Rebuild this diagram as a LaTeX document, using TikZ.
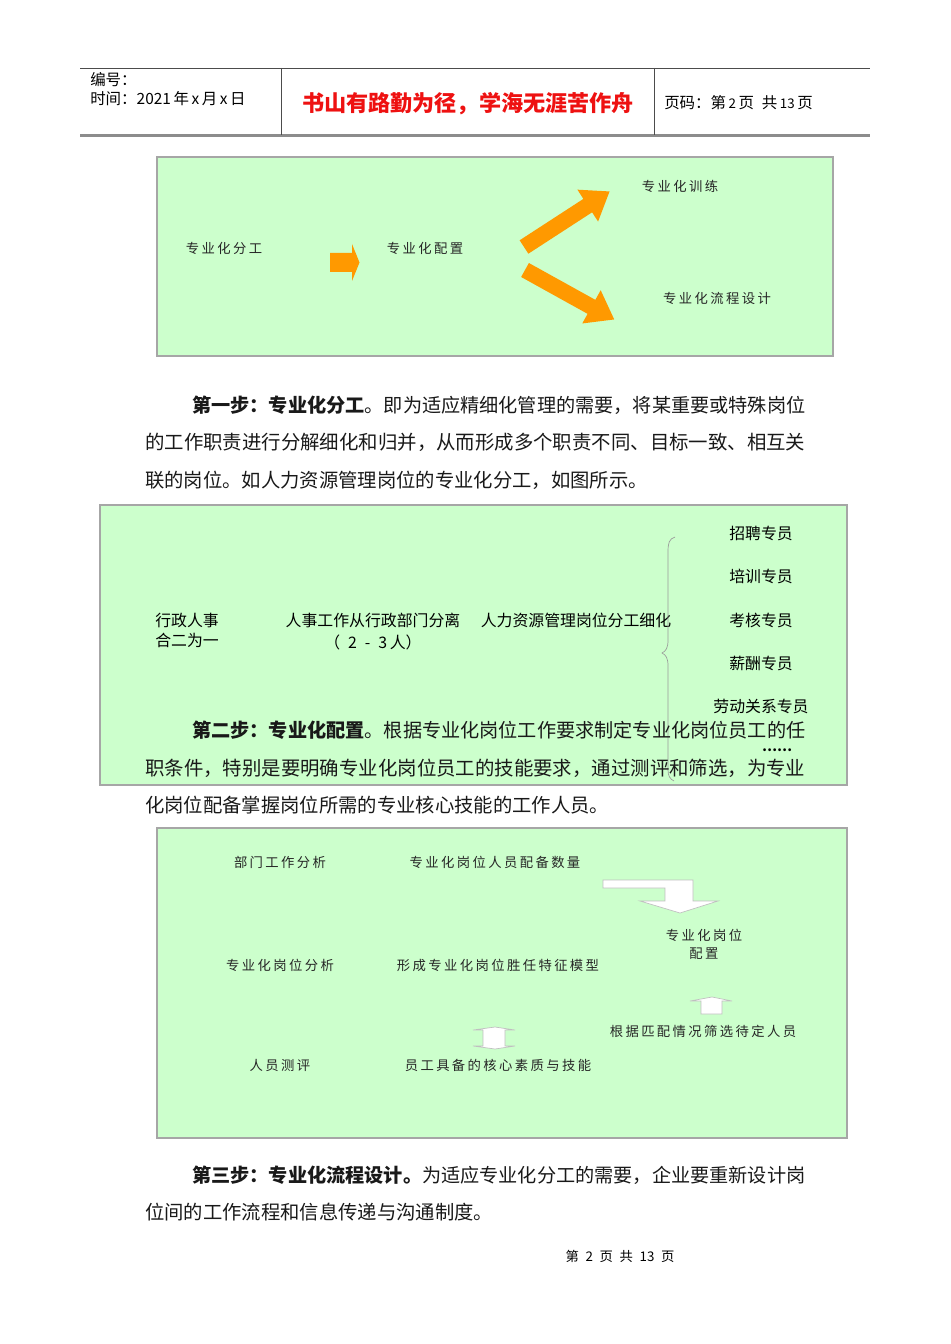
\documentclass[tikz,border=0pt]{standalone}
\usepackage{fontspec}
\setmainfont{Noto Sans CJK SC}
\newfontfamily\spacedcjk{Noto Sans CJK SC}[LetterSpace=18]
\definecolor{boxgreen}{HTML}{CCFFCC}
\definecolor{arroworange}{HTML}{FF9900}
\definecolor{titlered}{HTML}{EE1111}
\tikzset{
  panel/.style={draw=black!35, fill=boxgreen, line width=0.8pt},
  hdr/.style={inner sep=0pt, anchor=west, font=\fontsize{11.6}{14}\selectfont},
  mottostyle/.style={inner sep=0pt, text=titlered, font=\fontsize{16.6}{20}\selectfont\bfseries},
  slbl/.style={inner sep=0pt, text=black!85, font=\spacedcjk\fontsize{10}{13.5}\selectfont},
  blbl/.style={inner sep=0pt, text=black, font=\fontsize{11.9}{15}\selectfont},
  para/.style={inner sep=0pt, anchor=west, text=black!90, font=\fontsize{14.5}{18}\selectfont},
  parafirst/.style={para, font=\fontsize{14.37}{18}\selectfont},
  parafull/.style={para, font=\fontsize{14.56}{18}\selectfont},
  orangearrow/.style={fill=arroworange, draw=none},
  whitearrow/.style={fill=white, draw=black!25, line width=0.5pt},
  bracestyle/.style={draw=black!40, line width=0.5pt},
}
\begin{document}
\begin{tikzpicture}[x=0.75pt,y=-0.75pt]
\useasboundingbox (0,0) rectangle (950,1344);
\fill[white] (0,0) rectangle (950,1344);

% ---------- header ----------
\draw[black!70, line width=0.7pt] (80,68) -- (870,68);
\draw[black!45, line width=1.6pt] (80,135.5) -- (870,135.5);
\draw[black!70, line width=0.7pt] (281,68) -- (281,135);
\draw[black!70, line width=0.7pt] (654,68) -- (654,135);
\node[hdr] (bianhao) at (90,80) {编号：};
\node[hdr] (shijian) at (90,99) {时间：2021\,年\,x\,月\,x\,日};
\node[mottostyle] (motto) at (468,104) {书山有路勤为径，学海无涯苦作舟};
\node[hdr] (yema) at (664,103) {页码：第\,{\fontsize{10}{12}\selectfont 2}\,页\enspace{}共\,{\fontsize{10}{12}\selectfont 13}\,页};

% ---------- panel 1 ----------
\draw[panel] (157,157) rectangle (833,356);
\node[slbl] (fengong) at (224,248) {专业化分工};
\node[slbl] (peizhi) at (425,248) {专业化配置};
\node[slbl] (xunlian) at (680,186) {专业化训练};
\node[slbl] (liucheng) at (717,298) {专业化流程设计};
% right arrow
\fill[orangearrow] (330,253) -- (352,253) -- (352,244) -- (359.5,262.5) -- (352,281) -- (352,272) -- (330,272) -- cycle;
% upper diagonal arrow
\begin{scope}[shift={(524,247)}, rotate=33]
  \fill[orangearrow] (0,-8) -- (76,-8) -- (76,-19) -- (102,0) -- (76,19) -- (76,8) -- (0,8) -- cycle;
\end{scope}
% lower diagonal arrow
\begin{scope}[shift={(525,270)}, rotate=-29]
  \fill[orangearrow] (0,-8) -- (76,-8) -- (76,-19) -- (102,0) -- (76,19) -- (76,8) -- (0,8) -- cycle;
\end{scope}

% ---------- paragraph 1 ----------
\node[parafirst] (p1a) at (192,405) {\textbf{第一步：专业化分工}。即为适应精细化管理的需要，将某重要或特殊岗位};
\node[parafull] (p1b) at (145,442) {的工作职责进行分解细化和归并，从而形成多个职责不同、目标一致、相互关};
\node[para] (p1c) at (145,480) {联的岗位。如人力资源管理岗位的专业化分工，如图所示。};

% ---------- panel 2 ----------
\draw[panel] (100,505) rectangle (847,785);
\node[blbl, anchor=west] (xz1) at (155,620) {行政人事};
\node[blbl, anchor=west] (xz2) at (155,640) {合二为一};
\node[blbl] (fl1) at (373,620) {人事工作从行政部门分离};
\node[blbl] (fl2) at (373,642) {（\enspace{}2\enspace{}-\enspace{}3\,人）};
\node[blbl] (xh) at (576,620) {人力资源管理岗位分工细化};
\node[blbl] (zp) at (761,533) {招聘专员};
\node[blbl] (px) at (761,576) {培训专员};
\node[blbl] (kh) at (761,620) {考核专员};
\node[blbl] (xc) at (761,663) {薪酬专员};
\node[blbl] (ld) at (761,706) {劳动关系专员};
\node[blbl, font=\fontsize{10}{12}\selectfont\bfseries] (dots) at (777,750) {……};
\draw[bracestyle] (675,537) .. controls (669,539) and (668,543) .. (668,552) -- (668,640)
  .. controls (668,648) and (666,651) .. (662,653)
  .. controls (666,655) and (668,658) .. (668,666) -- (668,770)
  .. controls (668,776) and (670,779) .. (674,781);

% ---------- paragraph 2 ----------
\node[parafirst] (p2a) at (192,730) {\textbf{第二步：专业化配置}。根据专业化岗位工作要求制定专业化岗位员工的任};
\node[parafull] (p2b) at (145,768) {职条件，特别是要明确专业化岗位员工的技能要求，通过测评和筛选，为专业};
\node[para] (p2c) at (145,805) {化岗位配备掌握岗位所需的专业核心技能的工作人员。};

% ---------- panel 3 ----------
\draw[panel] (157,828) rectangle (847,1138);
\node[slbl] (bmfx) at (280,862) {部门工作分析};
\node[slbl] (rysl) at (495,862) {专业化岗位人员配备数量};
\node[slbl, align=center] (gwpz) at (704,944) {专业化岗位\\配置};
\node[slbl] (gwfx) at (280,965) {专业化岗位分析};
\node[slbl] (mx) at (498,965) {形成专业化岗位胜任特征模型};
\node[slbl] (sx) at (703,1031) {根据匹配情况筛选待定人员};
\node[slbl] (cp) at (280,1065) {人员测评};
\node[slbl] (jn) at (498,1065) {员工具备的核心素质与技能};
% bent arrow
\path[whitearrow] (603,880) -- (693,880) -- (693,901) -- (718,901) -- (680,913) -- (640,901) -- (665,901) -- (665,888) -- (603,888) -- cycle;
% up-down arrow
\path[whitearrow] (495,1027) -- (515,1030) -- (505,1030) -- (505,1046) -- (515,1046) -- (495,1049) -- (473,1046) -- (483,1046) -- (483,1030) -- (473,1030) -- cycle;
% up arrow
\path[whitearrow] (712,997) -- (732,1001) -- (722,1001) -- (722,1014) -- (701,1014) -- (701,1001) -- (690,1001) -- cycle;

% ---------- paragraph 3 ----------
\node[parafirst] (p3a) at (192,1175) {\textbf{第三步：专业化流程设计。}为适应专业化分工的需要，企业要重新设计岗};
\node[para] (p3b) at (145,1212) {位间的工作流程和信息传递与沟通制度。};

% ---------- footer ----------
\node[inner sep=0pt, font=\fontsize{10}{12}\selectfont] (footer) at (620,1256) {第\enspace{}2\enspace{}页\enspace{}共\enspace{}13\enspace{}页};
\end{tikzpicture}
\end{document}
